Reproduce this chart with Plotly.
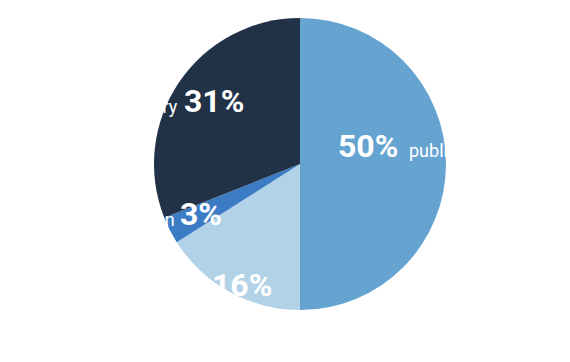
import math
import plotly.graph_objects as go

# ---- data ----
labels = ["public", "charity", "foundation", "industry"]
values = [50, 16, 3, 31]
colors = ["#65a4d1", "#b2d2e8", "#3b7cc4", "#213247"]

# ---- style params (label placement) ----
r_frac = [0.48, 0.92, 0.76, 0.73]      # radial distance of percentage label
ang_nudge = [-15, -3, 0, 2]             # degrees
label_side = ["right", "left", "left", "left"]
gap = [9, 4, 2, 3]
PSIZE, LSIZE = 32, 18

W, H = 570, 362
ml, mr, mt, mb = 30, 0, 18, 52
pw, ph = W - ml - mr, H - mt - mb
R = min(pw, ph) / 2

fig = go.Figure(go.Pie(
    labels=labels, values=values, sort=False, direction="clockwise",
    rotation=0, textinfo="none", hoverinfo="label+percent",
    marker=dict(colors=colors, line=dict(width=0)),
    showlegend=False,
))

total = sum(values)
cum = 0
annotations = []
for i, (lab, v) in enumerate(zip(labels, values)):
    pct = round(100 * v / total)
    mid = (cum + v / 2) / total * 360 + ang_nudge[i]
    cum += v
    th = math.radians(mid)
    dx = r_frac[i] * R * math.sin(th)
    dy = r_frac[i] * R * math.cos(th)
    x = 0.5 + dx / pw
    y = 0.5 + dy / ph
    ptxt = f"{pct}%"
    half = (0.562 * (len(ptxt) - 1) + 0.86) * PSIZE / 2
    annotations.append(dict(
        x=x, y=y, xref="paper", yref="paper", text=f"<b>{ptxt}</b>",
        showarrow=False, xanchor="center", yanchor="middle",
        font=dict(family="Roboto", size=PSIZE, color="white"),
    ))
    side_sign = 1 if label_side[i] == "right" else -1
    annotations.append(dict(
        x=x, y=y, xref="paper", yref="paper", text=lab,
        showarrow=False, xanchor="left" if side_sign > 0 else "right",
        yanchor="middle",
        xshift=side_sign * (half + gap[i] - 1), yshift=-5,
        font=dict(family="Roboto", size=LSIZE, color="white"),
    ))

fig.update_layout(
    width=W, height=H,
    margin=dict(l=ml, r=mr, t=mt, b=mb),
    paper_bgcolor="white", plot_bgcolor="white",
    annotations=annotations,
)
fig.write_html("out.html")
